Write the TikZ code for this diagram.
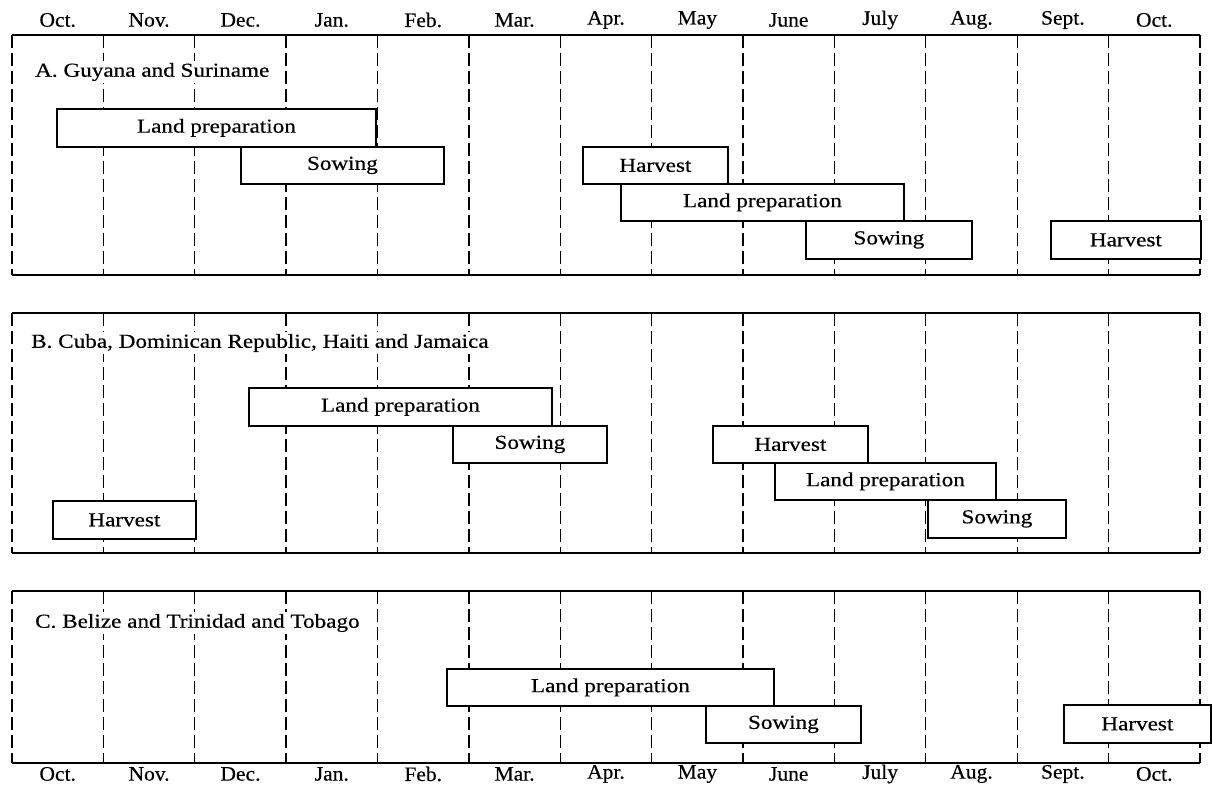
\documentclass[tikz,border=0pt]{standalone}
\usepackage{fontspec}
\setmainfont{Liberation Serif}[FakeStretch=1.17,FakeBold=0.4]
\newfontfamily\monthfont{Liberation Serif}[FakeStretch=1.05,FakeBold=0.4]
\begin{document}
\begin{tikzpicture}[x=1pt,y=-1pt,
  gridline/.style={line width=1.3pt, dash pattern=on 13pt off 5pt},
  frameline/.style={line width=1.4pt},
  taskbox/.style={draw, line width=1.8pt, fill=white, inner sep=0pt, anchor=north west,
     font=\fontsize{19.8}{21}\selectfont},
  monthlabel/.style={font=\monthfont\fontsize{20.5}{22}\selectfont, inner sep=0pt},
  paneltitle/.style={font=\fontsize{19.8}{21}\selectfont, inner sep=2pt, fill=white, anchor=west}]
\useasboundingbox (0,0) rectangle (1212,786);
% month labels
\foreach \m [count=\i from 0] in {Oct.,Nov.,Dec.,Jan.,Feb.,Mar.,Apr.,May,June,July,Aug.,Sept.,Oct.}{
  \node[monthlabel] (top\i) at ({12+91.38*\i+45.7},20) {\m};
  \node[monthlabel] (bot\i) at ({12+91.38*\i+45.7},774) {\m};
}
% panels
\foreach \t/\b in {35/275,313/553,591/763}{
  \draw[frameline] (12,\t) -- (1200,\t);
  \draw[frameline] (12,\b) -- (1200,\b);
  \foreach \k in {0,...,13}{
    \draw[gridline] ({12+91.38*\k},\t) -- ({12+91.38*\k},\b);
  }
}
% panel titles
\node[paneltitle] (tA) at (33,72) {A. Guyana and Suriname};
\node[paneltitle] (tB) at (29,343) {B. Cuba, Dominican Republic, Haiti and Jamaica};
\node[paneltitle] (tC) at (33,623) {C. Belize and Trinidad and Tobago};
% panel A
\node[taskbox, minimum width=319pt, minimum height=38pt] (a1) at (56,108) {Land preparation};
\node[taskbox, minimum width=203pt, minimum height=37pt] (a2) at (240,146) {Sowing};
\node[taskbox, minimum width=145pt, minimum height=37pt] (a3) at (582,146) {Harvest};
\node[taskbox, minimum width=283pt, minimum height=37pt] (a4) at (620,183) {Land preparation};
\node[taskbox, minimum width=166pt, minimum height=38pt] (a5) at (805,220) {Sowing};
\node[taskbox, minimum width=150pt, minimum height=38pt] (a6) at (1050,220) {Harvest};
% panel B
\node[taskbox, minimum width=303pt, minimum height=38pt] (b1) at (248,387) {Land preparation};
\node[taskbox, minimum width=154pt, minimum height=37pt] (b2) at (452,425) {Sowing};
\node[taskbox, minimum width=155pt, minimum height=37pt] (b3) at (712,425) {Harvest};
\node[taskbox, minimum width=221pt, minimum height=37pt] (b4) at (774,462) {Land preparation};
\node[taskbox, minimum width=138pt, minimum height=38pt] (b5) at (927,499) {Sowing};
\node[taskbox, minimum width=143pt, minimum height=38pt] (b6) at (52,500) {Harvest};
% panel C
\node[taskbox, minimum width=327pt, minimum height=37pt] (c1) at (446,668) {Land preparation};
\node[taskbox, minimum width=155pt, minimum height=37pt] (c2) at (705,705) {Sowing};
\node[taskbox, minimum width=147pt, minimum height=38pt] (c3) at (1063,704) {Harvest};
\end{tikzpicture}
\end{document}
